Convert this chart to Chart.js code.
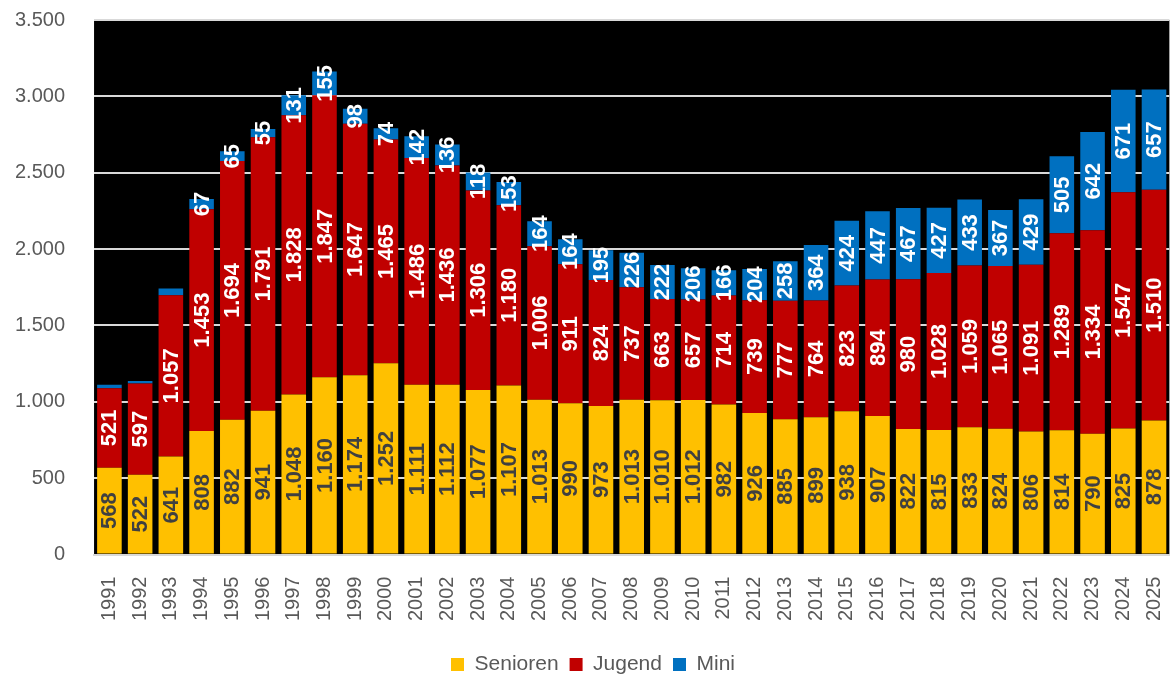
<!DOCTYPE html>
<html>
<head>
<meta charset="utf-8">
<script src="https://cdn.jsdelivr.net/npm/chart.js@4/dist/chart.umd.min.js"></script>
<style>
  html, body { margin: 0; padding: 0; background: #fff; overflow: hidden; width: 1170px; height: 677px; }
  #wrap { position: absolute; left: -14px; top: -21px; width: 1214px; height: 720px; }
</style>
</head>
<body>
<div id="wrap"><canvas id="chart"></canvas></div>
<script>
const years = ['1991','1992','1993','1994','1995','1996','1997','1998','1999','2000',
  '2001','2002','2003','2004','2005','2006','2007','2008','2009','2010',
  '2011','2012','2013','2014','2015','2016','2017','2018','2019','2020',
  '2021','2022','2023','2024','2025'];

const senioren = [568, 522, 641, 808, 882, 941, 1048, 1160, 1174, 1252,
  1111, 1112, 1077, 1107, 1013, 990, 973, 1013, 1010, 1012,
  982, 926, 885, 899, 938, 907, 822, 815, 833, 824,
  806, 814, 790, 825, 878];

const jugend = [521, 597, 1057, 1453, 1694, 1791, 1828, 1847, 1647, 1465,
  1486, 1436, 1306, 1180, 1006, 911, 824, 737, 663, 657,
  714, 739, 777, 764, 823, 894, 980, 1028, 1059, 1065,
  1091, 1289, 1334, 1547, 1510];

const mini = [22, 17, 44, 67, 65, 55, 131, 155, 98, 74,
  142, 136, 118, 153, 164, 164, 195, 226, 222, 206,
  166, 204, 258, 364, 424, 447, 467, 427, 433, 367,
  429, 505, 642, 671, 657];

const yTicks = [0, 500, 1000, 1500, 2000, 2500, 3000, 3500];

const fmt = v => String(v).replace(/\B(?=(\d{3})+(?!\d))/g, '.');

// black plot area
const plotBg = {
  id: 'plotBg',
  beforeDraw(chart) {
    const { ctx, chartArea: a } = chart;
    ctx.save();
    ctx.fillStyle = '#000';
    ctx.fillRect(a.left, a.top, a.right - a.left, a.bottom - a.top);
    ctx.restore();
  }
};

// rotated value labels inside the segments
const barLabels = {
  id: 'barLabels',
  afterDatasetsDraw(chart) {
    const ctx = chart.ctx;
    ctx.save();
    ctx.font = 'bold 22px "Liberation Sans", Arial, sans-serif';
    ctx.textAlign = 'center';
    ctx.textBaseline = 'middle';
    chart.data.datasets.forEach((ds, i) => {
      const meta = chart.getDatasetMeta(i);
      meta.data.forEach((bar, j) => {
        const v = ds.data[j];
        if (v < 50) return;
        const cy = (bar.y + bar.base) / 2;
        ctx.save();
        ctx.translate(bar.x + 1, cy);
        ctx.rotate(-Math.PI / 2);
        ctx.fillStyle = ds.labelColor;
        ctx.fillText(fmt(v), 0, 0);
        ctx.restore();
      });
    });
    ctx.restore();
  }
};

new Chart(document.getElementById('chart'), {
  type: 'bar',
  data: {
    labels: years,
    datasets: [
      { label: 'Senioren', data: senioren, backgroundColor: '#FFC000', labelColor: '#404040' },
      { label: 'Jugend', data: jugend, backgroundColor: '#C00000', labelColor: '#FFFFFF' },
      { label: 'Mini', data: mini, backgroundColor: '#0070C0', labelColor: '#FFFFFF' }
    ]
  },
  options: {
    responsive: true,
    maintainAspectRatio: false,
    animation: false,
    datasets: { bar: { barPercentage: 0.8, categoryPercentage: 1.0 } },
    layout: { padding: { top: 8, left: 0, right: 0, bottom: 14 } },
    plugins: {
      tooltip: { enabled: false },
      legend: {
        position: 'bottom',
        labels: {
          color: '#595959',
          font: { family: '"Liberation Sans", Arial, sans-serif', size: 21 },
          boxWidth: 13,
          boxHeight: 13,
          padding: 11
        }
      }
    },
    scales: {
      x: {
        stacked: true,
        grid: { display: false, drawTicks: false },
        border: { color: '#d9d9d9', width: 2 },
        ticks: {
          color: '#595959',
          font: { family: '"Liberation Sans", Arial, sans-serif', size: 20 },
          minRotation: 90,
          maxRotation: 90,
          autoSkip: false,
          padding: 22
        }
      },
      y: {
        stacked: true,
        min: 0,
        max: 3500,
        afterBuildTicks(axis) { axis.ticks = yTicks.map(v => ({ value: v })); },
        grid: { color: '#d9d9d9', lineWidth: 2, drawTicks: false },
        border: { display: false },
        ticks: {
          color: '#595959',
          font: { family: '"Liberation Sans", Arial, sans-serif', size: 20 },
          padding: 29,
          callback: v => fmt(v)
        }
      }
    }
  },
  plugins: [plotBg, barLabels]
});
</script>
</body>
</html>
